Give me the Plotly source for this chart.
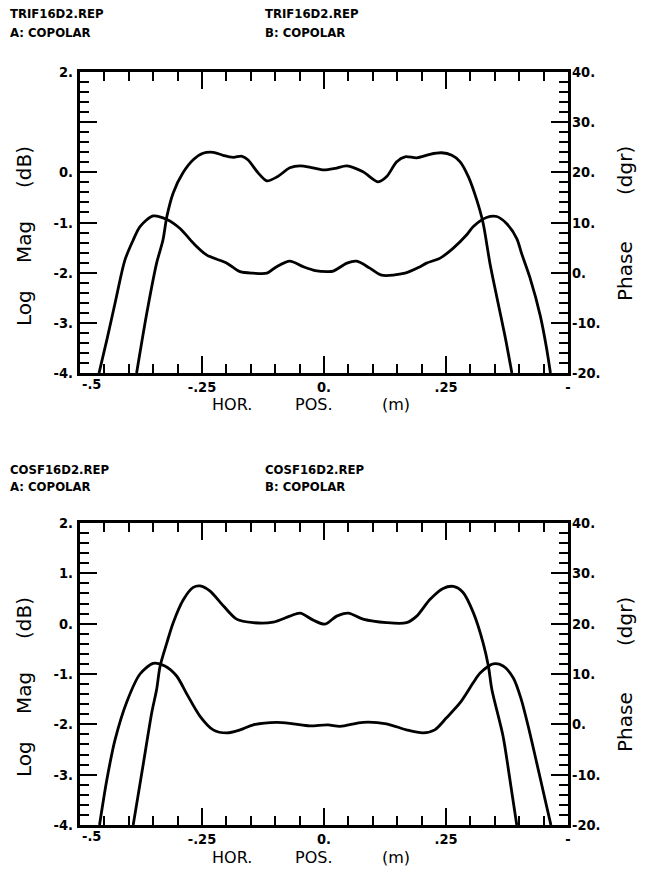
import plotly.graph_objects as go

# ---- TRIF16D2.REP : copolar cut, magnitude (dB) and phase (dgr) ----
trif_pos_mag = [-0.384, -0.363, -0.343, -0.330, -0.322, -0.309, -0.289, -0.268, -0.248, -0.227,
                -0.207, -0.186, -0.168, -0.156, -0.135, -0.117, -0.096, -0.070, -0.049, -0.023,
                0.000, 0.023, 0.047, 0.080, 0.111, 0.128, 0.149, 0.166, 0.190, 0.217,
                0.241, 0.262, 0.279, 0.296, 0.313, 0.326, 0.340, 0.354, 0.371, 0.385]
trif_mag = [-4.00, -2.80, -1.81, -1.35, -0.88, -0.41, -0.01, 0.25, 0.38, 0.40,
            0.34, 0.30, 0.32, 0.25, -0.01, -0.17, -0.09, 0.09, 0.13, 0.09,
            0.05, 0.08, 0.13, 0.01, -0.19, -0.09, 0.21, 0.31, 0.29, 0.36,
            0.39, 0.34, 0.21, -0.09, -0.55, -1.01, -1.81, -2.48, -3.27, -4.00]

trif_pos_ph = [-0.461, -0.445, -0.428, -0.408, -0.391, -0.377, -0.350, -0.322, -0.295, -0.268,
               -0.240, -0.199, -0.172, -0.145, -0.117, -0.097, -0.070, -0.043, -0.018, 0.008,
               0.019, 0.047, 0.067, 0.094, 0.118, 0.166, 0.197, 0.210, 0.238, 0.265,
               0.292, 0.306, 0.333, 0.354, 0.374, 0.395, 0.405, 0.422, 0.443, 0.456, 0.464]
trif_ph = [-20.0, -13.4, -6.0, 2.5, 6.5, 9.2, 11.3, 10.6, 8.8, 5.9,
           3.5, 1.9, 0.2, -0.1, -0.1, 1.2, 2.3, 1.2, 0.4, 0.2,
           0.3, 1.9, 2.3, 0.9, -0.5, -0.1, 1.2, 1.9, 2.9, 4.9,
           7.5, 9.2, 11.0, 11.2, 9.8, 6.8, 3.8, -1.0, -8.5, -15.0, -20.0]

# ---- COSF16D2.REP : copolar cut, magnitude (dB) and phase (dgr) ----
cosf_pos_mag = [-0.391, -0.370, -0.353, -0.343, -0.336, -0.322, -0.309, -0.288, -0.268, -0.254,
                -0.234, -0.206, -0.179, -0.145, -0.104, -0.070, -0.049, -0.022, 0.002, 0.026,
                0.050, 0.080, 0.128, 0.169, 0.190, 0.217, 0.244, 0.265, 0.285, 0.306,
                0.326, 0.337, 0.344, 0.367, 0.381, 0.395]
cosf_mag = [-4.00, -2.77, -1.77, -1.31, -0.85, -0.38, 0.02, 0.48, 0.72, 0.75,
            0.65, 0.35, 0.09, 0.02, 0.03, 0.15, 0.21, 0.07, -0.01, 0.15,
            0.21, 0.09, 0.02, 0.02, 0.15, 0.48, 0.70, 0.74, 0.62, 0.22,
            -0.38, -0.85, -1.31, -2.24, -3.10, -4.00]

cosf_pos_ph = [-0.460, -0.445, -0.428, -0.404, -0.377, -0.350, -0.326, -0.302, -0.281,
               -0.254, -0.227, -0.199, -0.172, -0.145, -0.097, -0.063, -0.029, 0.008, 0.033,
               0.080, 0.128, 0.169, 0.203, 0.227, 0.251, 0.279, 0.306, 0.320, 0.347,
               0.367, 0.388, 0.404, 0.420, 0.436, 0.452, 0.465]
cosf_ph = [-20.0, -11.0, -3.0, 4.5, 10.0, 12.1, 11.6, 9.6, 6.0,
           1.6, -1.1, -1.7, -1.1, -0.1, 0.4, 0.1, -0.3, -0.1, -0.4,
           0.4, 0.1, -1.1, -1.7, -1.1, 1.3, 4.3, 8.3, 10.2, 12.0,
           11.6, 9.2, 5.0, -1.0, -7.7, -14.5, -20.0]

# ---- axis tick labels and headers ----
x_tick_vals = [-0.25, 0.0, 0.25, 0.5]
x_tick_text = ["-.25", "0.", ".25", "-"]
mag_tick_vals = [-4, -3, -2, -1, 0, 1, 2]
mag_tick_text_top = ["-4.", "-3.", "-2.", "-1.", "0.", "", "2."]
mag_tick_text_bot = ["-4.", "-3.", "-2.", "-1.", "0.", "1.", "2."]
ph_tick_vals = [-20, -10, 0, 10, 20, 30, 40]
ph_tick_text = ["-20.", "-10.", "0.", "10.", "20.", "30.", "40."]
headers_top = ["TRIF16D2.REP", "A: COPOLAR", "TRIF16D2.REP", "B: COPOLAR"]
headers_bot = ["COSF16D2.REP", "A: COPOLAR", "COSF16D2.REP", "B: COPOLAR"]

X_RANGE, MAG_RANGE, PH_RANGE = [-0.5, 0.5], [-4, 2], [-20, 40]

W, H = 648, 870
COND = "DejaVu Sans Condensed, DejaVu Sans, sans-serif"
PLOT = "DejaVu Sans, Verdana, sans-serif"
LINE = dict(color="black", width=2.8)
MAJ_LEN, MIN_LEN = 17, 9


def px(v):
    return v / W


def py(v):
    return 1 - v / H


X0, X1 = 80, 568
panels = [(72, 373), (523, 825)]

# per panel: frame axes (ticks) and companion axes (labels only)
ids = [dict(x="x", xL="x3", yl="y", yr="y2", ylL="y5", yrL="y6", mag_text=mag_tick_text_top,
            mag=(trif_pos_mag, trif_mag), ph=(trif_pos_ph, trif_ph)),
       dict(x="x2", xL="x4", yl="y3", yr="y4", ylL="y7", yrL="y8", mag_text=mag_tick_text_bot,
            mag=(cosf_pos_mag, cosf_mag), ph=(cosf_pos_ph, cosf_ph))]

fig = go.Figure()
for d in ids:
    fig.add_trace(go.Scatter(x=d["mag"][0], y=d["mag"][1], mode="lines",
                             line=dict(shape="spline", smoothing=0.8, **LINE),
                             xaxis=d["x"], yaxis=d["yl"], showlegend=False, hoverinfo="skip"))
    fig.add_trace(go.Scatter(x=d["ph"][0], y=d["ph"][1], mode="lines",
                             line=dict(shape="spline", smoothing=0.8, **LINE),
                             xaxis=d["x"], yaxis=d["yr"], showlegend=False, hoverinfo="skip"))
    # empty traces so the label-only companion axes get drawn
    for xa, ya in [(d["xL"], d["yl"]), (d["x"], d["ylL"]), (d["x"], d["yrL"])]:
        fig.add_trace(go.Scatter(x=[], y=[], mode="lines", xaxis=xa, yaxis=ya,
                                 showlegend=False, hoverinfo="skip"))

tickfont = dict(family=COND, size=14.5, color="black", weight="bold")
AX = dict(showgrid=False, zeroline=False, linecolor="black", tickcolor="black", automargin=False)


def frame_axis(dtick, minor_dtick):
    # frame line with long major ticks and short minor ticks, all pointing inward
    return dict(showline=True, linewidth=2.6, ticks="inside", ticklen=MAJ_LEN, tickwidth=2.4,
                tickmode="linear", tick0=0, dtick=dtick, showticklabels=False,
                minor=dict(ticks="inside", ticklen=MIN_LEN, tickwidth=2.2, tickcolor="black",
                           dtick=minor_dtick, tick0=0, showgrid=False),
                **AX)


def label_axis(vals, texts, standoff):
    return dict(showline=False, ticks="", tickmode="array", tickvals=vals, ticktext=texts,
                tickfont=tickfont, ticklabelstandoff=standoff, **AX)


def key(a):
    return a[0] + "axis" + a[1:]


layout = dict(width=W, height=H, margin=dict(l=0, r=0, t=0, b=0, autoexpand=False),
              paper_bgcolor="white", plot_bgcolor="white", showlegend=False)

for (top, bot), d in zip(panels, ids):
    layout[key(d["x"])] = dict(domain=[px(X0), px(X1)], anchor=d["yl"], range=X_RANGE,
                               mirror="ticks", **frame_axis(0.25, 0.05))
    layout[key(d["xL"])] = dict(overlaying=d["x"], anchor=d["yl"], side="bottom", range=X_RANGE,
                                **label_axis(x_tick_vals, x_tick_text, 3))
    layout[key(d["yl"])] = dict(domain=[py(bot), py(top)], anchor=d["x"], range=MAG_RANGE,
                                **frame_axis(1, 0.2))
    layout[key(d["yr"])] = dict(overlaying=d["yl"], side="right", anchor=d["x"], range=PH_RANGE,
                                **frame_axis(10, 2))
    layout[key(d["ylL"])] = dict(overlaying=d["yl"], side="left", anchor=d["x"], range=MAG_RANGE,
                                 **label_axis(mag_tick_vals, d["mag_text"], 6))
    layout[key(d["yrL"])] = dict(overlaying=d["yl"], side="right", anchor=d["x"], range=PH_RANGE,
                                 **label_axis(ph_tick_vals, ph_tick_text, 3))

fig.update_layout(**layout)

ann = []
hfont = dict(family=COND, size=13, color="black", weight="bold")
tfont = dict(family=PLOT, size=16, color="black")
yfont = dict(family=PLOT, size=20, color="black")

for (top, bot), d, heads, hy in zip(panels, ids, [headers_top, headers_bot], [(14, 33), (469, 486)]):
    # file / cut headers above each panel
    for (text, hx, yy) in [(heads[0], 8, hy[0]), (heads[1], 8, hy[1]),
                           (heads[2], 263, hy[0]), (heads[3], 263, hy[1])]:
        ann.append(dict(text=text, x=px(hx), y=py(yy), xref="paper", yref="paper",
                        xanchor="left", yanchor="middle", showarrow=False, font=hfont))
    # left-most x tick label sits to the right of its tick
    ann.append(dict(text="-.5", x=X_RANGE[0], y=py(bot + 11), xref=d["x"], yref="paper",
                    xanchor="left", yanchor="middle", showarrow=False, font=tickfont))
    # x axis title
    for word, wx in [("HOR.", 210), ("POS.", 293), ("(m)", 380)]:
        ann.append(dict(text=word, x=px(wx), y=py(bot + 32), xref="paper", yref="paper",
                        xanchor="left", yanchor="middle", showarrow=False, font=tfont))
    # left axis title
    for word, wy in [("Log", 308), ("Mag", 242), ("(dB)", 167)]:
        ann.append(dict(text=word, x=px(24), y=py(wy - 72 + top), xref="paper", yref="paper",
                        textangle=-90, xanchor="center", yanchor="middle", showarrow=False, font=yfont))
    # right axis title
    for word, wy in [("Phase", 271), ("(dgr)", 171)]:
        ann.append(dict(text=word, x=px(625), y=py(wy - 72 + top), xref="paper", yref="paper",
                        textangle=-90, xanchor="center", yanchor="middle", showarrow=False, font=yfont))

fig.update_layout(annotations=ann)
fig.write_html("out.html")
